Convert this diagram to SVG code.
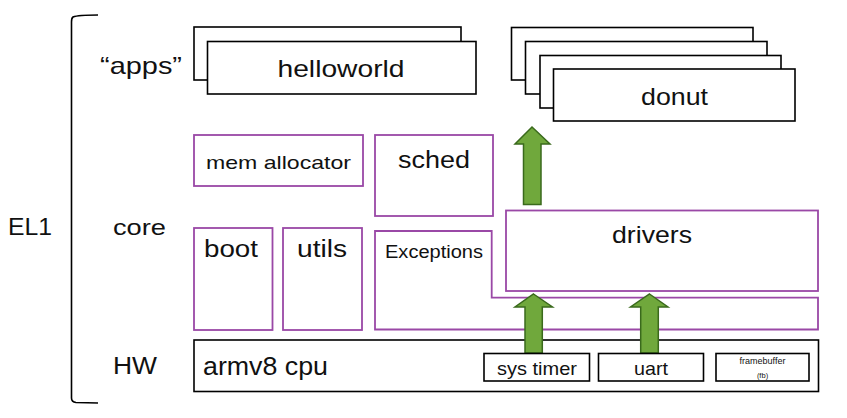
<svg xmlns="http://www.w3.org/2000/svg" width="847" height="418" viewBox="0 0 847 418">
<style>
text{font-family:"Liberation Sans",Arial,sans-serif;fill:#111}
.b{fill:#fff;stroke:#000;stroke-width:1.6}
.p{fill:#fff;stroke:#9a48a6;stroke-width:1.8}
.ar{fill:#70a83c;stroke:#3a6a1c;stroke-width:1.5;stroke-linejoin:miter}
.m{text-anchor:middle}
</style>
<rect width="847" height="418" fill="#fff"/>
<g id="bracket"><path d="M98 15 Q78 15 73 17 Q71.5 18 71.5 22 L71.5 398 Q71.5 402 76 402.5 L98 403" fill="none" stroke="#000" stroke-width="1.6"/></g>
<g id="labels">
<text x="8" y="235" font-size="24" textLength="44" lengthAdjust="spacingAndGlyphs">EL1</text>
<text x="100" y="74" font-size="24" textLength="82" lengthAdjust="spacingAndGlyphs">“apps”</text>
<text x="113" y="235" font-size="22" textLength="53" lengthAdjust="spacingAndGlyphs">core</text>
<text x="113" y="374" font-size="23" textLength="44" lengthAdjust="spacingAndGlyphs">HW</text>
</g>
<g id="helloworld">
<rect class="b" x="194" y="27" width="267" height="53"/>
<rect class="b" x="207.5" y="41.5" width="268.5" height="52.5"/>
<text x="341" y="77" font-size="24" class="m" textLength="127" lengthAdjust="spacingAndGlyphs">helloworld</text>
</g>
<g id="donut">
<rect class="b" x="511.5" y="27.5" width="241.5" height="52.5"/>
<rect class="b" x="525.5" y="41.5" width="241.5" height="52.5"/>
<rect class="b" x="540" y="55.5" width="241" height="52.5"/>
<rect class="b" x="553.5" y="69" width="241.5" height="52"/>
<text x="674.5" y="105" font-size="24" class="m" textLength="67" lengthAdjust="spacingAndGlyphs">donut</text>
</g>
<g id="mem-allocator">
<rect class="p" x="194" y="135" width="169" height="51"/>
<text x="278.5" y="169" font-size="19" class="m" textLength="145" lengthAdjust="spacingAndGlyphs">mem allocator</text>
</g>
<g id="sched">
<rect class="p" x="375" y="135" width="118" height="81"/>
<text x="434" y="168" font-size="23" class="m" textLength="72" lengthAdjust="spacingAndGlyphs">sched</text>
</g>
<g id="boot">
<rect class="p" x="194" y="228" width="78.5" height="102"/>
<text x="231" y="256.5" font-size="23" class="m" textLength="54" lengthAdjust="spacingAndGlyphs">boot</text>
</g>
<g id="utils">
<rect class="p" x="283" y="228" width="79" height="102"/>
<text x="322" y="256.5" font-size="23" class="m" textLength="50" lengthAdjust="spacingAndGlyphs">utils</text>
</g>
<g id="exceptions">
<path class="p" d="M375 231 L491.7 231 L491.7 297.7 L818 297.7 L818 329.5 L375 329.5 Z"/>
<text x="385" y="258" font-size="18" textLength="98" lengthAdjust="spacingAndGlyphs">Exceptions</text>
</g>
<g id="drivers">
<rect class="p" x="506" y="210.5" width="312" height="80.5"/>
<text x="652" y="243" font-size="24" class="m" textLength="80" lengthAdjust="spacingAndGlyphs">drivers</text>
</g>
<g id="hw">
<rect class="b" x="194" y="340" width="624.5" height="51.5"/>
<text x="203" y="375" font-size="25" textLength="125" lengthAdjust="spacingAndGlyphs">armv8 cpu</text>
</g>
<g id="connectors">
<path class="ar" d="M532 127 L550 144 L541 144 L541 204.5 L523.5 204.5 L523.5 144 L515 144 Z"/>
<path class="ar" d="M533.5 294 L552.5 307 L542.3 307 L542.3 353 L525 353 L525 307 L515 307 Z"/>
<path class="ar" d="M649.5 294 L668 307 L658.3 307 L658.3 353 L640.7 353 L640.7 307 L630.5 307 Z"/>
</g>
<g id="sys-timer">
<rect class="b" x="484" y="353.5" width="105.5" height="27.5"/>
<text x="537" y="375" font-size="19" class="m" textLength="80" lengthAdjust="spacingAndGlyphs">sys timer</text>
</g>
<g id="uart">
<rect class="b" x="598.5" y="353.5" width="105" height="27.5"/>
<text x="651" y="375" font-size="19" class="m" textLength="34" lengthAdjust="spacingAndGlyphs">uart</text>
</g>
<g id="framebuffer">
<rect class="b" x="716" y="353.5" width="93" height="27.5" stroke-width="1.2"/>
<text x="762.5" y="364" font-size="9" class="m" fill="#333">framebuffer</text>
<text x="762.5" y="378" font-size="7.5" class="m" fill="#333">(fb)</text>
</g>
</svg>
